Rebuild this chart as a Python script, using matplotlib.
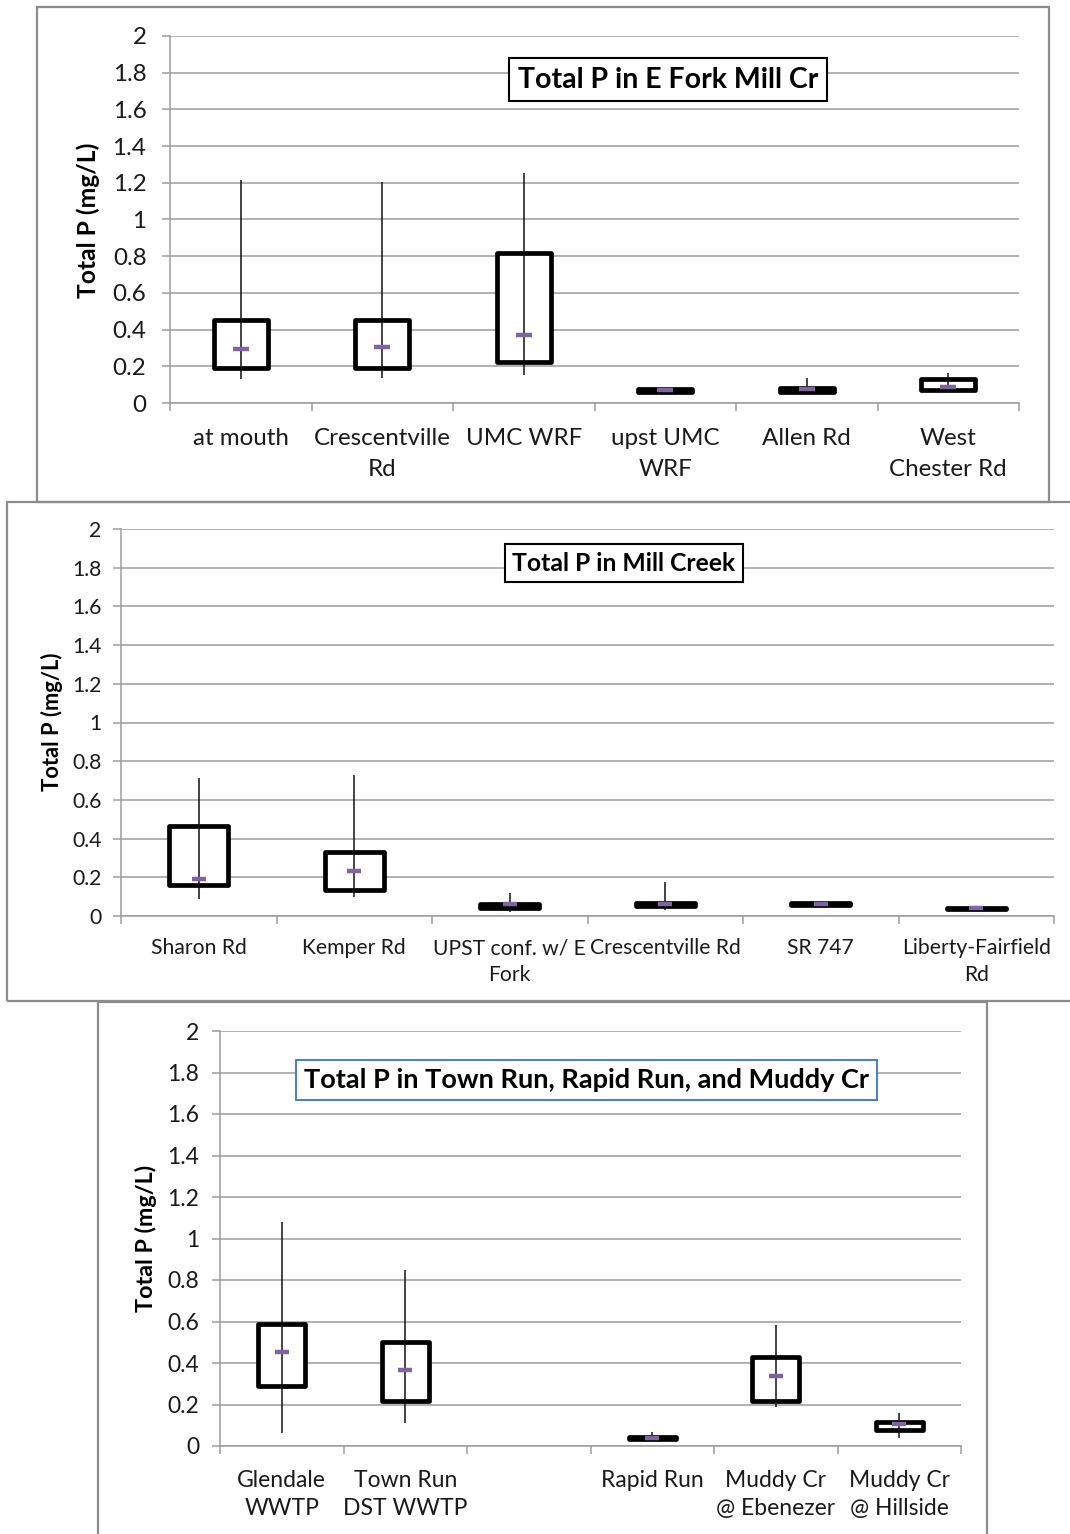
import numpy as np
import matplotlib
matplotlib.use('Agg')
import matplotlib.pyplot as plt
from matplotlib.patches import Rectangle

plt.rcParams['font.family'] = ['Lato', 'DejaVu Sans']

# Total P summary per site: whisker low, 25th pct, median, 75th pct, whisker high (mg/L)
sites1 = ['at mouth', 'Crescentville\nRd', 'UMC WRF', 'upst UMC\nWRF', 'Allen Rd', 'West\nChester Rd']
lo1 = [0.13, 0.135, 0.15, 0.06, 0.058, 0.06]
q1_1 = [0.19, 0.19, 0.225, 0.06, 0.058, 0.071]
med1 = [0.295, 0.305, 0.37, 0.07, 0.076, 0.089]
q3_1 = [0.455, 0.45, 0.82, 0.074, 0.084, 0.129]
hi1 = [1.215, 1.205, 1.255, 0.074, 0.135, 0.165]

sites2 = ['Sharon Rd', 'Kemper Rd', 'UPST conf. w/ E\nFork', 'Crescentville Rd', 'SR 747',
          'Liberty-Fairfield\nRd']
lo2 = [0.086, 0.10, 0.022, 0.031, 0.057, 0.036]
q1_2 = [0.158, 0.136, 0.041, 0.05, 0.057, 0.036]
med2 = [0.19, 0.233, 0.062, 0.062, 0.062, 0.04]
q3_2 = [0.463, 0.332, 0.063, 0.067, 0.066, 0.043]
hi2 = [0.711, 0.729, 0.117, 0.177, 0.066, 0.043]

sites3 = ['Glendale\nWWTP', 'Town Run\nDST WWTP', '', 'Rapid Run', 'Muddy Cr\n@ Ebenezer',
          'Muddy Cr\n@ Hillside']
lo3 = [0.061, 0.112, np.nan, 0.035, 0.186, 0.037]
q1_3 = [0.291, 0.219, np.nan, 0.035, 0.219, 0.075]
med3 = [0.455, 0.368, np.nan, 0.04, 0.339, 0.104]
q3_3 = [0.588, 0.5, np.nan, 0.044, 0.427, 0.118]
hi3 = [1.081, 0.848, np.nan, 0.069, 0.583, 0.157]

yticks = np.arange(0, 2.01, 0.2)
ytick_labels = ['0', '0.2', '0.4', '0.6', '0.8', '1', '1.2', '1.4', '1.6', '1.8', '2']

W, H = 1070, 1534
GRID = '#9c9c9c'
PURPLE = '#8064a2'

fig = plt.figure(figsize=(W / 100, H / 100), dpi=100)


def px_axes(left, top, right, bottom):
    return fig.add_axes([left / W, 1 - bottom / H, (right - left) / W, (bottom - top) / H])


def frame(x0, y0, x1, y1):
    fig.add_artist(Rectangle((x0 / W, 1 - y1 / H), (x1 - x0) / W, (y1 - y0) / H,
                             transform=fig.transFigure, fill=False, ec='#8c8c8c', lw=1.6))


def draw_panel(ax, sites, lo, q1, med, q3, hi, tick_fs, ypad, xpad, linesp, title,
               title_fs, title_xy, title_ec, med_size):
    x = np.arange(len(sites))
    lo, q1, med, q3, hi = map(np.asarray, (lo, q1, med, q3, hi))
    ax.bar(x, q3 - q1, bottom=q1, width=0.38, color='white', edgecolor='black',
           linewidth=3.4, joinstyle='round', zorder=2)
    ax.vlines(x, lo, hi, color='#111111', lw=1.1, zorder=3)
    ax.plot(x, med, ls='none', marker='_', ms=med_size, mew=3.2, color=PURPLE, zorder=4)

    ax.set_xlim(-0.5, len(sites) - 0.5)
    ax.set_ylim(0, 2)
    ax.set_yticks(yticks)
    ax.set_yticklabels(ytick_labels)
    ax.set_xticks(x)
    ax.set_xticklabels(sites, linespacing=linesp)
    ax.set_xticks(np.arange(-0.5, len(sites)), minor=True)
    ax.tick_params(axis='x', which='major', length=0, pad=xpad, labelsize=tick_fs,
                   labelcolor='#1a1a1a')
    ax.tick_params(axis='x', which='minor', length=6, width=1.1, color=GRID)
    ax.tick_params(axis='y', length=6, width=1.1, color=GRID, pad=ypad, labelsize=tick_fs,
                   labelcolor='#1a1a1a')
    ax.grid(axis='y', color=GRID, lw=1.1)
    ax.set_axisbelow(True)
    for side in ('top', 'right'):
        ax.spines[side].set_visible(False)
    for side in ('left', 'bottom'):
        ax.spines[side].set_color(GRID)
        ax.spines[side].set_linewidth(1.1)

    ax.text(title_xy[0], title_xy[1], title, transform=ax.transAxes, ha='center', va='center',
            fontsize=title_fs, fontweight='bold', color='black', zorder=6,
            bbox=dict(boxstyle='square,pad=0.3', fc='white', ec=title_ec, lw=1.5))


# panel outlines
frame(37, 7, 1049, 502)
frame(7, 502, 1078, 1001)
frame(98, 1002, 987, 1540)

ax1 = px_axes(170, 36, 1019, 403)
draw_panel(ax1, sites1, lo1, q1_1, med1, q3_1, hi1, 17.4, 11, 18, 1.58,
           'Total P in E Fork Mill Cr', 20.5, (0.5866, 0.881), 'black', 11)
fig.text(88 / W, 1 - 220 / H, 'Total P (mg/L)', rotation=90, ha='center', va='center',
         fontsize=17.7, fontweight='bold')

ax2 = px_axes(121, 529, 1054, 916)
draw_panel(ax2, sites2, lo2, q1_2, med2, q3_2, hi2, 15.2, 8, 16, 1.45,
           'Total P in Mill Creek', 17.8, (0.539, 0.912), 'black', 10)
fig.text(52 / W, 1 - 722 / H, 'Total P (mg/L)', rotation=90, ha='center', va='center',
         fontsize=15.8, fontweight='bold')

ax3 = px_axes(220, 1031, 961, 1446)
draw_panel(ax3, sites3, lo3, q1_3, med3, q3_3, hi3, 16.5, 9, 17.5, 1.37,
           'Total P in Town Run, Rapid Run, and Muddy Cr', 19.5, (0.495, 0.882), '#4f81bd', 10.5)
fig.text(146 / W, 1 - 1238 / H, 'Total P (mg/L)', rotation=90, ha='center', va='center',
         fontsize=16.8, fontweight='bold')

fig.savefig('out.png', dpi=100)
